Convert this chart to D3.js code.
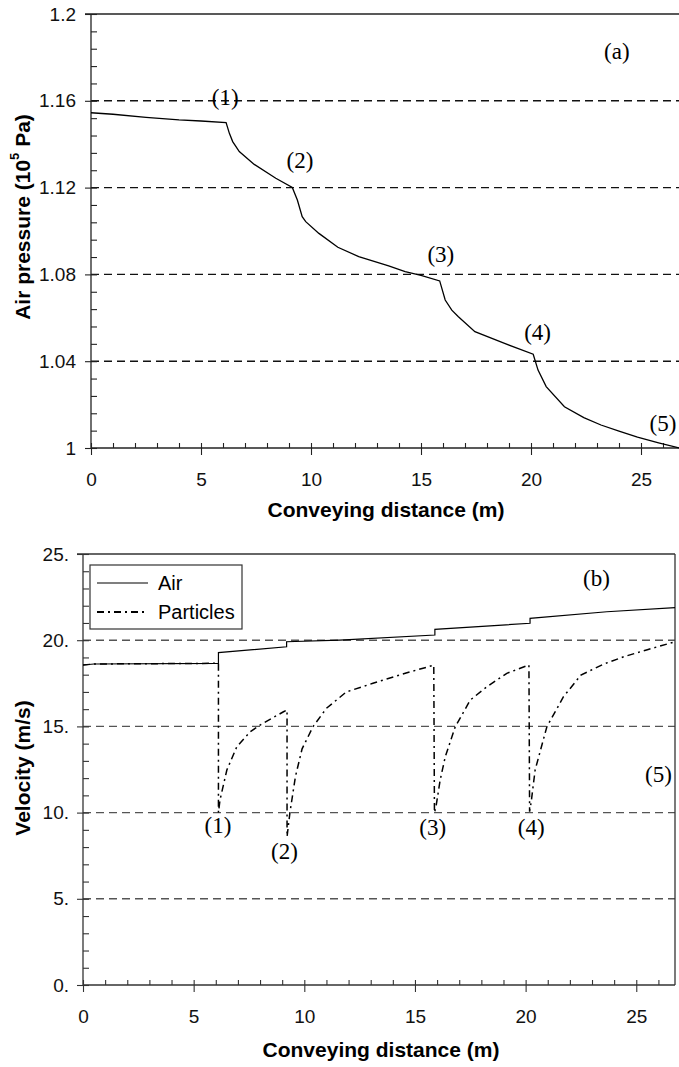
<!DOCTYPE html>
<html>
<head>
<meta charset="utf-8">
<script src="https://cdn.jsdelivr.net/npm/d3@7"></script>
<style>
  body { margin: 0; background: white; }
  text { font-family: "Liberation Sans", Arial, sans-serif; }
  text.note { font-family: "Liberation Serif", "Times New Roman", serif; }
</style>
</head>
<body>
<script>
// panel (a): air pressure along the pipe
const presX = [0, 1, 2.5, 4, 5, 6.14, 6.29, 6.44, 6.74, 7.42, 8.4, 9.15, 9.38, 9.6, 9.76, 10.36, 11.22, 12.17, 13.53, 14.28, 15.0, 15.85, 16.1, 16.4, 16.7, 17.45, 18.8, 20.1, 20.32, 20.69, 21.52, 22.4, 23.18, 24.0, 24.84, 25.8, 26.75];
const presY = [1.1545, 1.1538, 1.1524, 1.1512, 1.1507, 1.1500, 1.1450, 1.1412, 1.1366, 1.1307, 1.1243, 1.1201, 1.1143, 1.1066, 1.1043, 1.0989, 1.0925, 1.0882, 1.0839, 1.0813, 1.0795, 1.0770, 1.0682, 1.0635, 1.0605, 1.0536, 1.0482, 1.0432, 1.0359, 1.0283, 1.0190, 1.0140, 1.0106, 1.0078, 1.0050, 1.0024, 1.0000];

// panel (b): air and particle velocity
const airX = [0, 0.5, 6.12, 6.12, 9.2, 9.2, 11.6, 15.9, 15.9, 20.2, 20.2, 23.67, 26.75];
const airV = [18.56, 18.62, 18.66, 19.28, 19.62, 19.91, 20.01, 20.30, 20.63, 20.98, 21.27, 21.65, 21.89];
const partX = [0, 0.5, 6.12, 6.12, 6.19, 6.5, 6.95, 7.55, 8.0, 9.06, 9.22, 9.22, 9.35, 9.6, 9.9, 10.4, 11.0, 11.9, 13.1, 14.6, 15.85, 15.88, 15.95, 16.14, 16.37, 16.82, 17.5, 18.25, 19.15, 20.15, 20.18, 20.25, 20.43, 20.96, 21.71, 22.5, 23.5, 24.43, 25.5, 26.75];
const partV = [18.56, 18.62, 18.66, 10.0, 10.73, 12.47, 13.82, 14.69, 15.08, 15.85, 15.95, 8.6, 10.0, 12.1, 13.7, 15.0, 16.05, 17.0, 17.5, 18.1, 18.55, 10.0, 10.34, 11.9, 13.24, 14.98, 16.53, 17.3, 18.08, 18.56, 10.05, 10.6, 12.47, 14.98, 16.72, 17.98, 18.6, 19.04, 19.45, 19.91];

const xTicks = [0, 5, 10, 15, 20, 25];
const xMinor = d3.range(0, 27, 1);
const presTicks = [1, 1.04, 1.08, 1.12, 1.16, 1.2];
const presLabels = ['1', '1.04', '1.08', '1.12', '1.16', '1.2'];
const presMinor = d3.range(0, 26).map(i => 1 + i * 0.008);
const presGrid = [1.04, 1.08, 1.12, 1.16];
const velTicks = [0, 5, 10, 15, 20, 25];
const velLabels = ['0.', '5.', '10.', '15.', '20.', '25.'];
const velMinor = d3.range(0, 26);
const velGrid = [5, 10, 15, 20];

const notesA = [['(1)', 6.1, 1.1615], ['(2)', 9.5, 1.1325], ['(3)', 15.9, 1.0892], ['(4)', 20.3, 1.0530], ['(5)', 26.0, 1.0115], ['(a)', 23.9, 1.1825]];
const notesB = [['(1)', 6.1, 9.25], ['(2)', 9.1, 7.75], ['(3)', 15.8, 9.15], ['(4)', 20.25, 9.15], ['(5)', 26.0, 12.2], ['(b)', 23.2, 23.55]];

const W = 679, H = 1067;
const svg = d3.select('body').append('svg').attr('width', W).attr('height', H);

function panel(o) {
  const x = d3.scaleLinear().domain([0, 26.75]).range([o.left, o.right]);
  const y = d3.scaleLinear().domain(o.ydom).range([o.bottom, o.top]);
  const g = svg.append('g');

  // dashed grid
  g.selectAll('.grid').data(o.grid).enter().append('line')
    .attr('x1', o.left).attr('x2', o.right)
    .attr('y1', d => y(d)).attr('y2', d => y(d))
    .attr('stroke', o.gridColor).attr('stroke-width', 1.4)
    .attr('stroke-dasharray', '8,5');

  // top frame
  g.append('line').attr('x1', o.left - o.tick).attr('x2', o.right)
    .attr('y1', o.top).attr('y2', o.top)
    .attr('stroke', o.axisColor).attr('stroke-width', 1.3);
  if (o.rightFrame) {
    g.append('line').attr('x1', o.right).attr('x2', o.right)
      .attr('y1', o.top).attr('y2', o.bottom)
      .attr('stroke', o.axisColor).attr('stroke-width', 1.3);
  }

  // y axis: outer major ticks with labels, inner ticks for all
  const yAx = g.append('g').attr('transform', `translate(${o.left},0)`)
    .call(d3.axisLeft(y).tickValues(o.yticks).tickSize(o.tick).tickPadding(o.ypad)
      .tickFormat((d, i) => o.ylabels[i]));
  g.append('g').attr('transform', `translate(${o.left},0)`)
    .call(d3.axisRight(y).tickValues(o.yminor).tickSize(6).tickFormat(''))
    .call(a => a.select('.domain').remove());

  // x axis
  const xAx = g.append('g').attr('transform', `translate(0,${o.bottom})`)
    .call(d3.axisBottom(x).tickValues(xTicks).tickSize(7).tickPadding(18).tickFormat(d3.format('d')));
  g.append('g').attr('transform', `translate(0,${o.bottom})`)
    .call(d3.axisTop(x).tickValues(xMinor).tickSize(5).tickFormat(''))
    .call(a => a.select('.domain').remove());

  g.selectAll('.domain').attr('stroke', o.axisColor).attr('stroke-width', 1.3);
  g.selectAll('.tick line').attr('stroke', o.axisColor).attr('stroke-width', 1.1);
  g.selectAll('.tick text').attr('font-size', 19).attr('fill', '#111');
  yAx.select('.domain').attr('d', `M-0,${o.bottom}V${o.top}`);
  xAx.select('.domain').attr('d', `M${o.left},0H${o.right}`);

  // x title
  g.append('text').attr('x', o.xtx).attr('y', o.xty)
    .attr('text-anchor', 'middle').attr('font-weight', 'bold').attr('font-size', 21)
    .text('Conveying distance (m)');

  return { x, y, g };
}

// ---- panel (a)
const A = panel({
  left: 91, right: 679.5, top: 14, bottom: 448, ydom: [1, 1.2],
  grid: presGrid, gridColor: '#111', axisColor: '#222', rightFrame: false,
  yticks: presTicks, ylabels: presLabels, yminor: presMinor, tick: 6, ypad: 9,
  xtx: 386, xty: 517
});
A.g.append('path')
  .datum(d3.zip(presX, presY))
  .attr('fill', 'none').attr('stroke', '#000').attr('stroke-width', 1.3)
  .attr('d', d3.line().x(d => A.x(d[0])).y(d => A.y(d[1])));

const ta = A.g.append('text').attr('transform', 'translate(22,217) rotate(-90)')
  .attr('text-anchor', 'middle').attr('dominant-baseline', 'central')
  .attr('font-weight', 'bold').attr('font-size', 21);
ta.append('tspan').text('Air pressure (10');
ta.append('tspan').attr('font-size', 13).attr('dy', -8).text('5');
ta.append('tspan').attr('dy', 8).text(' Pa)');

A.g.selectAll('.note').data(notesA).enter().append('text')
  .attr('class', 'note')
  .attr('x', d => A.x(d[1])).attr('y', d => A.y(d[2]))
  .attr('text-anchor', 'middle').attr('dominant-baseline', 'central')
  .attr('font-size', 23)
  .text(d => d[0]);

// ---- panel (b)
const B = panel({
  left: 83, right: 675, top: 554, bottom: 985, ydom: [0, 25],
  grid: velGrid, gridColor: '#555', axisColor: '#333', rightFrame: true,
  yticks: velTicks, ylabels: velLabels, yminor: velMinor, tick: 6, ypad: 8,
  xtx: 381, xty: 1057
});
const vline = d3.line().x(d => B.x(d[0])).y(d => B.y(d[1]));
B.g.append('path').datum(d3.zip(airX, airV))
  .attr('fill', 'none').attr('stroke', '#000').attr('stroke-width', 1.2).attr('d', vline);
B.g.append('path').datum(d3.zip(partX, partV))
  .attr('fill', 'none').attr('stroke', '#000').attr('stroke-width', 1.5)
  .attr('stroke-dasharray', '7,4,2,4').attr('d', vline);

B.g.append('text').attr('transform', 'translate(22,768) rotate(-90)')
  .attr('text-anchor', 'middle').attr('dominant-baseline', 'central')
  .attr('font-weight', 'bold').attr('font-size', 21)
  .text('Velocity (m/s)');

B.g.selectAll('.note').data(notesB).enter().append('text')
  .attr('class', 'note')
  .attr('x', d => B.x(d[1])).attr('y', d => B.y(d[2]))
  .attr('text-anchor', 'middle').attr('dominant-baseline', 'central')
  .attr('font-size', 23)
  .text(d => d[0]);

// legend
const leg = B.g.append('g');
leg.append('rect').attr('x', 90).attr('y', 565).attr('width', 152).attr('height', 64)
  .attr('fill', 'white').attr('stroke', '#333').attr('stroke-width', 1.2);
const legItems = [['Air', null], ['Particles', '7,4,2,4']];
legItems.forEach((it, i) => {
  const yy = 583 + i * 29;
  leg.append('line').attr('x1', 97).attr('x2', 148).attr('y1', yy).attr('y2', yy)
    .attr('stroke', '#000').attr('stroke-width', i ? 1.8 : 1.1)
    .attr('stroke-dasharray', it[1]);
  leg.append('text').attr('x', 158).attr('y', yy).attr('dominant-baseline', 'central')
    .attr('font-size', 20).text(it[0]);
});
</script>
</body>
</html>
